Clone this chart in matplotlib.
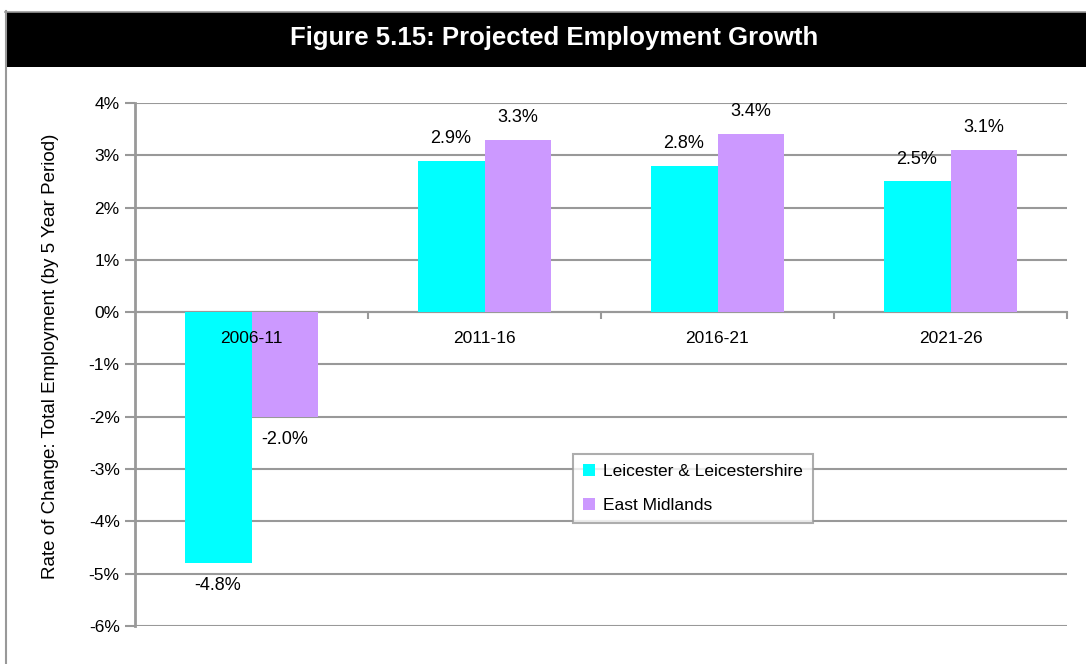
import matplotlib
matplotlib.use("Agg")
import matplotlib.pyplot as plt
from matplotlib.patches import Rectangle
from matplotlib.lines import Line2D
from matplotlib.ticker import FuncFormatter, FixedLocator
import numpy as np

plt.rcParams['font.family'] = ['Liberation Sans', 'DejaVu Sans']

periods = ["2006-11", "2011-16", "2016-21", "2021-26"]
leicester = [-4.8, 2.9, 2.8, 2.5]
east_midlands = [-2.0, 3.3, 3.4, 3.1]
series_names = ["Leicester & Leicestershire", "East Midlands"]
title = "Figure 5.15: Projected Employment Growth"
ylabel = "Rate of Change: Total Employment (by 5 Year Period)"

W, H = 1086, 664
fig = plt.figure(figsize=(W / 100, H / 100), dpi=100)

def fx(px):
    return px / W

def fy(py):
    return 1 - py / H

# Outer frame and black title band
fig.patches.append(Rectangle((fx(5), fy(67)), fx(W - 5), (67 - 12) / H,
                             transform=fig.transFigure, facecolor='black',
                             edgecolor='none', zorder=0))
fig.lines.append(Line2D([fx(5.5), fx(5.5)], [fy(11), 0], transform=fig.transFigure,
                        color='#999999', lw=1.5))
fig.lines.append(Line2D([fx(5), 1], [fy(11.5), fy(11.5)], transform=fig.transFigure,
                        color='#999999', lw=1.2))
fig.text(fx(554), fy(38), title, color='white', fontsize=18.5, fontweight='bold',
         ha='center', va='center')

ax = fig.add_axes([fx(135), fy(626), fx(1067 - 135), (626 - 103) / H])

x = np.arange(len(periods))
bw = 0.2875
c1, c2 = '#00FFFF', '#CC99FF'
b1 = ax.bar(x - bw / 2, leicester, bw, color=c1, label=series_names[0], zorder=3)
b2 = ax.bar(x + bw / 2, east_midlands, bw, color=c2, label=series_names[1], zorder=3)

ax.set_xlim(-0.5, len(periods) - 0.5)
ax.set_ylim(-6, 4)
ax.set_yticks(np.arange(-6, 5, 1))
ax.yaxis.set_major_formatter(FuncFormatter(lambda v, p: f"{v:.0f}%"))
ax.grid(axis='y', color='#999999', lw=1.5, zorder=0)
ax.set_axisbelow(True)

for s in ['top', 'right']:
    ax.spines[s].set_visible(False)
ax.spines['left'].set_color('#999999')
ax.spines['left'].set_linewidth(2)
ax.spines['bottom'].set_position(('data', 0))
ax.spines['bottom'].set_color('#999999')
ax.spines['bottom'].set_linewidth(1.5)

# Category boundaries as small ticks on the zero line; category names drawn on top of bars
ax.set_xticks([])
ax.xaxis.set_minor_locator(FixedLocator([0.5, 1.5, 2.5, 3.5]))
ax.tick_params(axis='x', which='minor', length=5, width=1.5, color='#999999')
for xi, name in zip(x, periods):
    ax.annotate(name, (xi, 0), xytext=(0, -26), textcoords='offset pixels',
                ha='center', va='center', fontsize=12.5, zorder=6)

ax.tick_params(axis='y', length=7, width=1.5, color='#999999', pad=4, labelsize=12.5)
ax.set_ylabel(ylabel, fontsize=13.5)
ax.yaxis.set_label_coords(-0.082, 0.515)

for bars, vals in ((b1, leicester), (b2, east_midlands)):
    for rect, v in zip(bars, vals):
        cx = rect.get_x() + rect.get_width() / 2
        if v >= 0:
            ax.annotate(f"{v:.1f}%", (cx, v), xytext=(0, 10), textcoords='offset points',
                        ha='center', va='bottom', fontsize=13)
        else:
            ax.annotate(f"{v:.1f}%", (cx, v), xytext=(0, -10), textcoords='offset points',
                        ha='center', va='top', fontsize=13)

leg = ax.legend(loc='upper left', bbox_to_anchor=((573 - 135) / 932, (626 - 454) / 523),
                fontsize=12.5, frameon=True, fancybox=False, edgecolor='#999999',
                handlelength=0.7, handleheight=0.7, handletextpad=0.5,
                borderpad=0.55, labelspacing=1.1, borderaxespad=0)
leg.get_frame().set_linewidth(1.5)
leg.set_zorder(5)

fig.savefig("out.png", dpi=100)
